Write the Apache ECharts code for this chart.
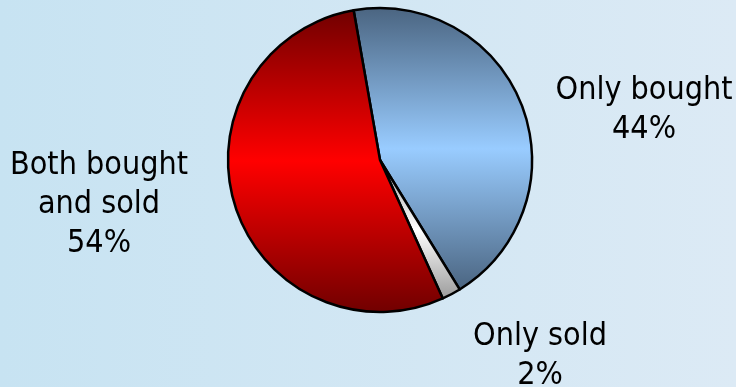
<!DOCTYPE html>
<html>
<head>
<meta charset="utf-8">
<script src="https://cdn.jsdelivr.net/npm/echarts@6/dist/echarts.min.js"></script>
<style>
  html, body { margin: 0; padding: 0; }
  #chart { width: 736px; height: 387px; }
</style>
</head>
<body>
<div id="chart"></div>
<script>
// Share of traders by activity type
const categories = ['Only bought', 'Only sold', 'Both bought\nand sold'];
const shares = [44, 2, 54];

// Slice shading: dark edge / bright middle / dark edge
const sliceShades = [
  ['#4a6480', '#99ccff', '#4a6480'],
  ['#9a9a9a', '#ffffff', '#9a9a9a'],
  ['#700000', '#ff0000', '#700000']
];

// Label anchor points (centre of each text block)
const labelSpots = [[644, 110], [540, 356], [99, 205]];

function shade(c) {
  return new echarts.graphic.LinearGradient(0, 0, 0, 1, [
    { offset: 0, color: c[0] },
    { offset: 0.5, color: c[1] },
    { offset: 1, color: c[2] }
  ]);
}

const chart = echarts.init(document.getElementById('chart'), null, { renderer: 'canvas' });

chart.setOption({
  backgroundColor: new echarts.graphic.LinearGradient(0, 0, 1, 0, [
    { offset: 0, color: '#c7e3f2' },
    { offset: 1, color: '#dceaf5' }
  ]),
  animation: false,
  series: [{
    type: 'pie',
    center: [380, 160],
    radius: 152,
    startAngle: 100,
    clockwise: true,
    avoidLabelOverlap: false,
    data: categories.map((name, i) => ({
      name,
      value: shares[i],
      itemStyle: { color: shade(sliceShades[i]) }
    })),
    itemStyle: { borderColor: '#000000', borderWidth: 2.5 },
    label: {
      show: true,
      position: 'outside',
      formatter: '{b}\n{c}%',
      color: '#000000',
      fontFamily: '"DejaVu Sans Condensed", "DejaVu Sans", sans-serif',
      fontSize: 32,
      lineHeight: 39
    },
    labelLine: { show: false },
    labelLayout: function (params) {
      const p = labelSpots[params.dataIndex];
      return { x: p[0], y: p[1], align: 'center', verticalAlign: 'middle' };
    },
    emphasis: { disabled: true }
  }]
});
</script>
</body>
</html>
